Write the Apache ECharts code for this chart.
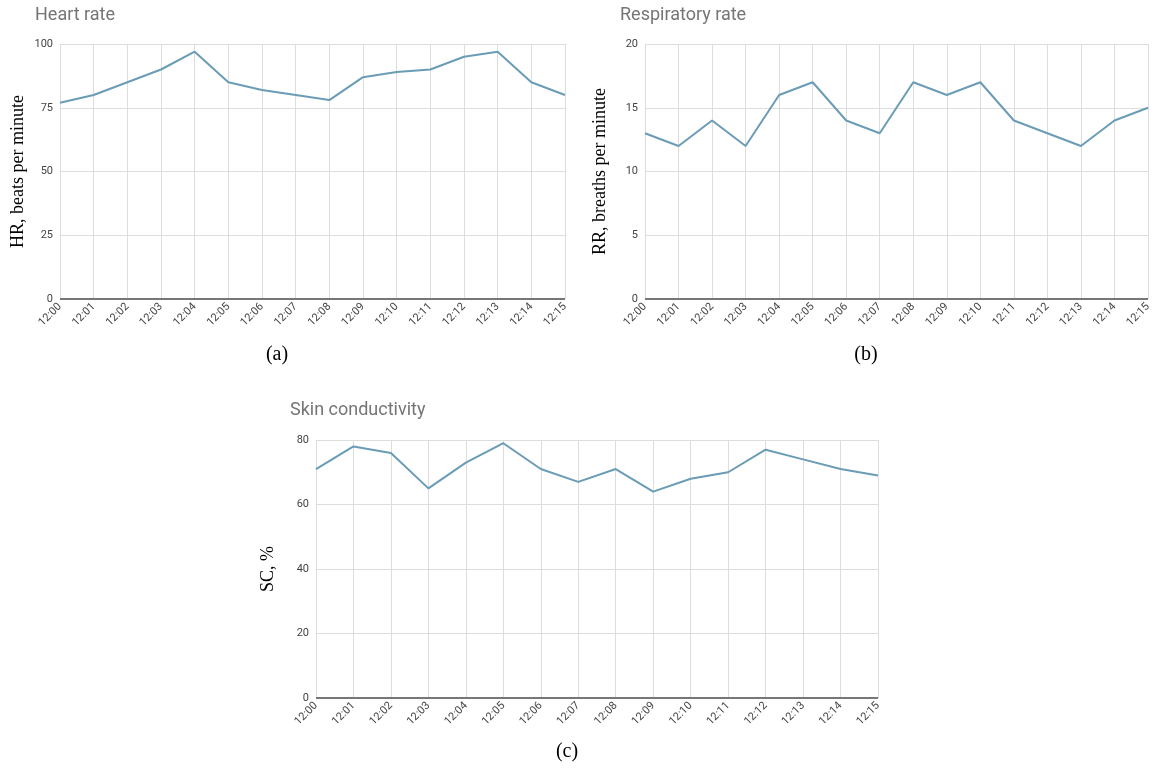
<!DOCTYPE html>
<html><head><meta charset="utf-8">
<script src="https://cdn.jsdelivr.net/npm/echarts@6/dist/echarts.min.js"></script>
<style>html,body{margin:0;padding:0;background:#fff}#c{width:1160px;height:769px}</style>
</head><body><div id="c"></div>
<script>
const categories = ["12:00","12:01","12:02","12:03","12:04","12:05","12:06","12:07","12:08","12:09","12:10","12:11","12:12","12:13","12:14","12:15"];
const heartRate = [77,80,85,90,97,85,82,80,78,87,89,90,95,97,85,80];
const respRate = [13,12,14,12,16,17,14,13,17,16,17,14,13,12,14,15];
const skinCond = [71,78,76,65,73,79,71,67,71,64,68,70,77,74,71,69];
const titles = ["Heart rate","Respiratory rate","Skin conductivity"];
const yNames = ["HR, beats per minute","RR, breaths per minute","SC, %"];
const captions = ["(a)","(b)","(c)"];
const yMax = [100,20,80];
const yStep = [25,5,20];

const grids = [
  {left:60, top:44, width:505, height:255},
  {left:645, top:44, width:503, height:255},
  {left:316, top:440, width:562, height:258}
];
const titlePos = [{left:30,top:1},{left:615,top:1},{left:285,top:396}];
const capPos = [{x:277,y:355},{x:866,y:355},{x:567,y:752}];
const nameGaps = [33,36,39];
const data = [heartRate, respRate, skinCond];
const lineColor = '#6a9cb6';

const option = {
  animation:false,
  title: titles.map((t,i)=>({text:t,left:titlePos[i].left,top:titlePos[i].top,
    textStyle:{fontFamily:'Roboto',fontSize:18,fontWeight:'normal',color:'#757575'}})),
  grid: grids,
  xAxis: grids.map((g,i)=>({type:'category',gridIndex:i,data:categories,boundaryGap:false,
    axisLine:{show:false},axisTick:{show:false},
    axisLabel:{rotate:45,fontSize:11,color:'#444',fontFamily:'Roboto',margin:6,interval:0},
    splitLine:{show:true,lineStyle:{color:'#dddddd',width:1}}})),
  yAxis: grids.map((g,i)=>({type:'value',gridIndex:i,min:0,max:yMax[i],interval:yStep[i],
    name:yNames[i],nameLocation:'middle',nameRotate:90,nameGap:nameGaps[i],
    nameTextStyle:{fontFamily:'Liberation Serif',fontSize:18,color:'#000'},
    axisLine:{show:false},axisTick:{show:false},
    axisLabel:{fontSize:11,color:'#444',fontFamily:'Roboto',margin:7},
    splitLine:{show:true,lineStyle:{color:'#dddddd',width:1}}})),
  series: data.map((d,i)=>({type:'line',xAxisIndex:i,yAxisIndex:i,data:d,showSymbol:false,
    lineStyle:{color:lineColor,width:2},itemStyle:{color:lineColor},
    markLine:{silent:true,symbol:'none',label:{show:false},lineStyle:{color:'#777',width:2,type:'solid'},data:[{yAxis:0}]}})),
  graphic: captions.map((c,i)=>({type:'text',x:capPos[i].x,y:capPos[i].y,
    style:{text:c,font:'20px "Liberation Serif"',fill:'#000',textAlign:'center',textVerticalAlign:'middle'}}))
};
echarts.init(document.getElementById('c')).setOption(option);
</script></body></html>
